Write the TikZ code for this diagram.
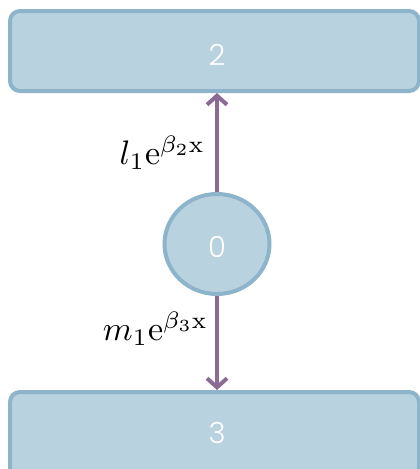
\documentclass[tikz,border=0pt]{standalone}
\usepackage{fix-cm}
\usepackage{fontspec}
\newfontfamily\digitfont{Poppins Light}
\usetikzlibrary{arrows.meta,shapes.geometric}
\definecolor{boxfill}{HTML}{B9D2DF}
\definecolor{boxline}{HTML}{8DB4CB}
\definecolor{arrowcol}{HTML}{8B6A93}
\tikzset{
  levelbox/.style={draw=boxline, fill=boxfill, line width=4pt, rounded corners=10pt, inner sep=0pt},
  statecirc/.style={draw=boxline, fill=boxfill, line width=4pt, ellipse, inner sep=0pt},
  lbl/.style={text=white, inner sep=0pt},
  conn/.style={draw=arrowcol, line width=4pt, -{Straight Barb[length=9pt,width=20pt,line width=4pt]}},
  mathlbl/.style={inner sep=0pt}
}
\begin{document}
\begin{tikzpicture}[x=1pt,y=-1pt]
\useasboundingbox (0,0) rectangle (420,469);
\node[levelbox, minimum width=409pt, minimum height=80pt] (n2) at (214.5,51) {};
\node[lbl] (t2) at (217,55) {\scalebox{2.9}{\digitfont 2}};
\node[levelbox, minimum width=409pt, minimum height=86pt] (n3) at (214.5,435) {};
\node[lbl] (t3) at (217,433) {\scalebox{2.9}{\digitfont 3}};
\node[statecirc, minimum width=105pt, minimum height=100pt] (n0) at (217,244) {};
\node[lbl] (t0) at (217,247) {\scalebox{2.9}{\digitfont 0}};
\draw[conn] (n0.north) -- (n2.south -| n0.north);
\draw[conn] (n0.south) -- (n3.north -| n0.south);
\node[mathlbl, anchor=east] (l2) at (205,153) {\scalebox{3.4}{$l_1\mathrm{e}^{\beta_2\mathrm{x}}$}};
\node[mathlbl, anchor=east] (l3) at (208,329) {\scalebox{3.4}{$m_1\mathrm{e}^{\beta_3\mathrm{x}}$}};
\end{tikzpicture}
\end{document}
